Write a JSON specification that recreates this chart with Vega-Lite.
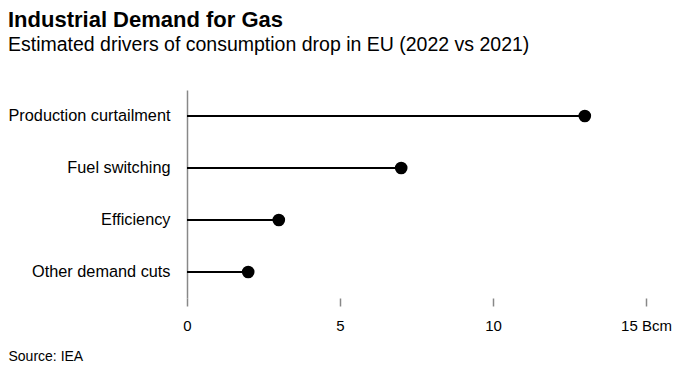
{
  "$schema": "https://vega.github.io/schema/vega-lite/v6.json",
  "width": 459,
  "height": 208,
  "autosize": {"type": "none"},
  "padding": {"left": 187, "top": 90, "right": 32, "bottom": 72},
  "background": "#ffffff",
  "title": {
    "text": "Industrial Demand for Gas",
    "subtitle": "Estimated drivers of consumption drop in EU (2022 vs 2021)",
    "anchor": "start",
    "frame": "bounds",
    "font": "Liberation Sans",
    "fontSize": 22,
    "fontWeight": "bold",
    "color": "#000000",
    "subtitleFont": "Liberation Sans",
    "subtitleFontSize": 19.5,
    "subtitleColor": "#000000",
    "subtitlePadding": 4,
    "offset": 35
  },
  "config": {
    "view": {"stroke": null},
    "font": "Liberation Sans"
  },
  "data": {
    "values": [
      {"driver": "Production curtailment", "value": 13},
      {"driver": "Fuel switching", "value": 7},
      {"driver": "Efficiency", "value": 3},
      {"driver": "Other demand cuts", "value": 2}
    ]
  },
  "encoding": {
    "y": {
      "field": "driver",
      "type": "nominal",
      "sort": null,
      "scale": {"paddingInner": 0, "paddingOuter": 0},
      "axis": {
        "title": null,
        "ticks": false,
        "labelPadding": 17,
        "labelFontSize": 16.3,
        "labelColor": "#000000",
        "domain": true,
        "domainColor": "#888888",
        "domainWidth": 1.5
      }
    },
    "x": {
      "field": "value",
      "type": "quantitative",
      "scale": {"domain": [0, 15], "nice": false},
      "axis": {
        "values": [0, 5, 10, 15],
        "labelExpr": "datum.value == 15 ? '15 Bcm' : datum.label",
        "labelFlush": false,
        "grid": false,
        "domain": false,
        "tickColor": "#888888",
        "tickWidth": 1.5,
        "tickSize": 8,
        "labelPadding": 12,
        "labelFontSize": 15,
        "labelColor": "#000000",
        "title": "Source: IEA",
        "titleFontSize": 14,
        "titleFontWeight": "normal",
        "titleColor": "#000000",
        "titleAnchor": "start",
        "titleAlign": "left",
        "titleBaseline": "alphabetic",
        "titleX": -179,
        "titleY": 62
      }
    }
  },
  "layer": [
    {
      "mark": {"type": "rule", "color": "#000000", "strokeWidth": 2},
      "encoding": {
        "x2": {"datum": 0}
      }
    },
    {
      "mark": {"type": "circle", "color": "#000000", "opacity": 1, "size": 160},
      "encoding": {}
    }
  ]
}
